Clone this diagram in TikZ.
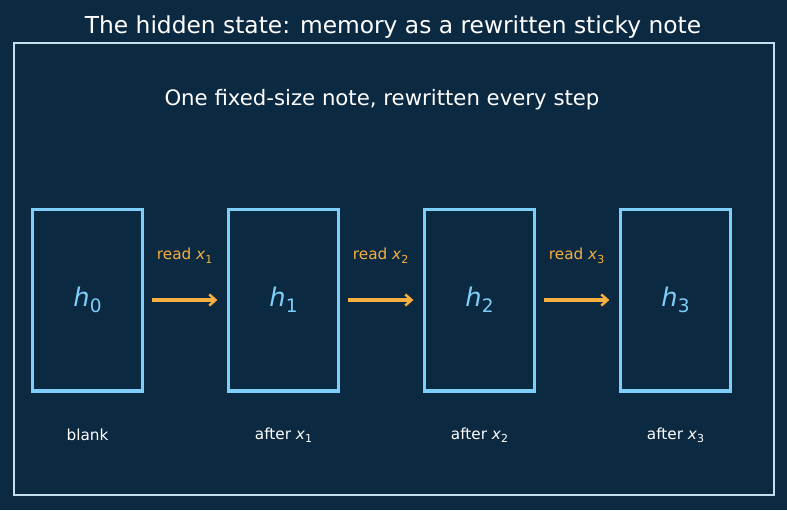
\documentclass[tikz,border=0pt]{standalone}
\usepackage{fontspec}
\usepackage{graphicx}
\setmainfont{DejaVu Sans}
\usetikzlibrary{arrows.meta}

\definecolor{bgnavy}{HTML}{0C2942}
\definecolor{noteblue}{HTML}{7DCFFA}
\definecolor{readorange}{HTML}{F5B041}
\definecolor{framegrey}{HTML}{C6DDEE}

\newcommand{\mvar}[2]{\textit{#1}\raisebox{-0.22em}{\scalebox{0.72}{#2}}}

\begin{document}
\begin{tikzpicture}[x=0.72pt, y=-0.72pt,
        note/.style={draw=noteblue, line width=2.2pt, minimum width=79pt,
            minimum height=131pt, inner sep=0pt, text=noteblue,
            font=\fontsize{18.5}{22}\selectfont},
        readlabel/.style={text=readorange, font=\fontsize{11}{13}\selectfont},
        notelabel/.style={text=white, font=\fontsize{11}{13}\selectfont},
        readarrow/.style={draw=readorange, line width=2.2pt,
            -{Straight Barb[length=4.5pt, width=8pt, line width=1.8pt]}}]

    % Background and frame
    \fill[bgnavy] (0,0) rectangle (787,510);
    \useasboundingbox (0,0) rectangle (787,510);
    \draw[framegrey, line width=1.1pt] (14,43) rectangle (774,495);

    % Titles
    \node[text=white, font=\fontsize{16.8}{20}\selectfont] (title) at (393,27)
        {The hidden state: memory as a rewritten sticky note};
    \node[text=white, font=\fontsize{15.3}{18}\selectfont] (subtitle) at (382,100)
        {One fixed-size note, rewritten every step};

    % Sticky notes
    \node[note] (h0) at (87.5,300) {\mvar{h}{0}};
    \node[note] (h1) at (283.5,300) {\mvar{h}{1}};
    \node[note] (h2) at (479.5,300) {\mvar{h}{2}};
    \node[note] (h3) at (675.5,300) {\mvar{h}{3}};

    % Captions under the notes
    \node[notelabel] (c0) at (87.5,435) {blank};
    \node[notelabel] (c1) at (283.5,435) {after \mvar{x}{1}};
    \node[notelabel] (c2) at (479.5,435) {after \mvar{x}{2}};
    \node[notelabel] (c3) at (675.5,435) {after \mvar{x}{3}};

    % Reading steps
    \draw[readarrow] ([xshift=5.8pt]h0.east) -- ([xshift=-7pt]h1.west)
        node[readlabel, midway, above=22pt] (r1) {read \mvar{x}{1}};
    \draw[readarrow] ([xshift=5.8pt]h1.east) -- ([xshift=-7pt]h2.west)
        node[readlabel, midway, above=22pt] (r2) {read \mvar{x}{2}};
    \draw[readarrow] ([xshift=5.8pt]h2.east) -- ([xshift=-7pt]h3.west)
        node[readlabel, midway, above=22pt] (r3) {read \mvar{x}{3}};
\end{tikzpicture}
\end{document}
